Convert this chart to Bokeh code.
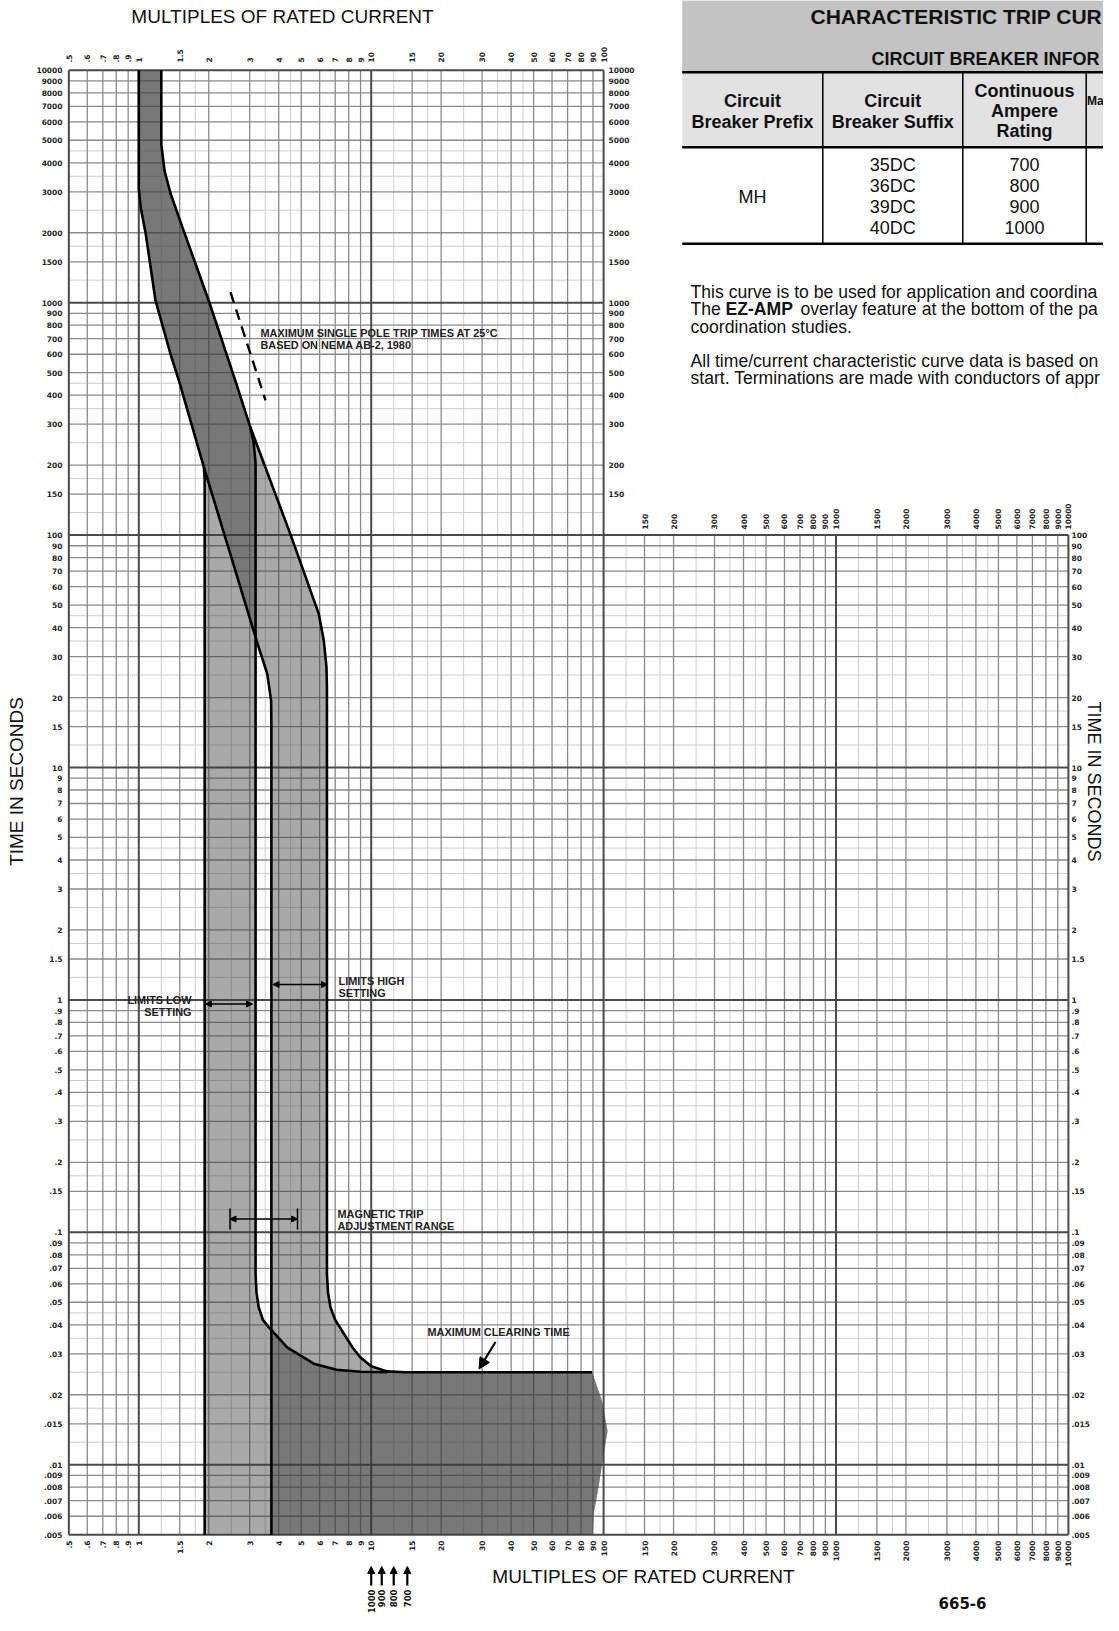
import math
from bokeh.plotting import figure
from bokeh.models import Range1d, LinearScale, Arrow, NormalHead
from bokeh.core.properties import value
from bokeh.embed import file_html
from bokeh.resources import INLINE

# ---------------- tick labels ----------------
x_labels = [".5", ".6", ".7", ".8", ".9", "1", "1.5", "2", "3", "4", "5", "6", "7", "8", "9",
            "10", "15", "20", "30", "40", "50", "60", "70", "80", "90", "100",
            "150", "200", "300", "400", "500", "600", "700", "800", "900", "1000",
            "1500", "2000", "3000", "4000", "5000", "6000", "7000", "8000", "9000", "10000"]
y_labels = ["10000", "9000", "8000", "7000", "6000", "5000", "4000", "3000", "2000", "1500",
            "1000", "900", "800", "700", "600", "500", "400", "300", "200", "150",
            "100", "90", "80", "70", "60", "50", "40", "30", "20", "15",
            "10", "9", "8", "7", "6", "5", "4", "3", "2", "1.5",
            "1", ".9", ".8", ".7", ".6", ".5", ".4", ".3", ".2", ".15",
            ".1", ".09", ".08", ".07", ".06", ".05", ".04", ".03", ".02", ".015",
            ".01", ".009", ".008", ".007", ".006", ".005"]
minor_steps = [1.25, 1.75, 2.5, 3.5, 4.5]

# ---------------- curves (multiples of rating, seconds) ----------------
tmin_x = [1.0, 1.0, 1.02, 1.07, 1.11, 1.18, 1.37, 1.5, 1.905, 2.4, 3.21, 3.57, 3.71, 3.72]
tmin_y = [10000, 3100, 2550, 1990, 1550, 1020, 600, 450, 196, 92, 35.2, 25.3, 19.4, 15]
tmax_x = [1.25, 1.25, 1.29, 1.37, 1.54, 2.0, 2.6, 3.02, 4.49, 5.95, 6.25, 6.42, 6.45]
tmax_y = [10000, 4800, 3700, 2950, 2115, 1020, 463, 291, 101, 45.8, 35.2, 27, 22]
clear_hi_x = [6.45, 6.52, 6.68, 7.0, 7.63, 8.3, 8.97, 10.0, 11.7, 14.0, 89.3]
clear_hi_y = [0.066, 0.055, 0.0476, 0.042, 0.0366, 0.032, 0.029, 0.0265, 0.0252, 0.025, 0.025]
low_max_x = [3.02, 3.12, 3.18, 3.18, 3.21, 3.28, 3.42, 3.62, 4.35, 5.66, 7.1, 9.0, 11.7]
low_max_y = [291, 250, 205, 0.066, 0.055, 0.0476, 0.042, 0.0391, 0.032, 0.0272, 0.0256, 0.0251, 0.025]
low_min_x = [1.905, 1.92, 1.92]
low_min_y = [196, 175, 0.005]
high_min_end = [3.72, 0.005]
edge_x = [89.8, 90.7, 95.1, 99.1, 104.0, 98.4, 89.3]
edge_y = [0.005, 0.00615, 0.008, 0.0104, 0.014, 0.0189, 0.025]
nema_x = [2.48, 3.51]
nema_y = [1110, 380]

# EZ-AMP overlay
ez_ratings = ["1000", "900", "800", "700"]
ez_x = [10.0, 11.1, 12.5, 14.3]

# table
tbl_prefix = "MH"
tbl_suffix = ["35DC", "36DC", "39DC", "40DC"]
tbl_amps = ["700", "800", "900", "1000"]

# ---------------- figure geometry ----------------
W, H = 1103, 1615
PX1, PY1, K = 138.3, 999.4, 232.4   # picture px of x=1 / y=1 and px per decade


def xr(px):
    return 10 ** ((px - PX1) / K)


def yr(py):
    return 10 ** ((PY1 - py) / K)


p = figure(width=W, height=H, x_axis_type="log", y_axis_type="log",
           x_range=Range1d(xr(0), xr(W)), y_range=Range1d(yr(H), yr(0)),
           x_axis_location=None, y_axis_location=None, min_border=0,
           output_backend="svg", toolbar_location=None)
p.outline_line_color = None
p.grid.visible = False
p.background_fill_color = "white"
p.border_fill_color = "white"
p.extra_x_ranges = {"px": Range1d(0, W)}
p.extra_y_ranges = {"py": Range1d(H, 0)}
p.extra_x_scales = {"px": LinearScale()}
p.extra_y_scales = {"py": LinearScale()}

FONT = value("Liberation Sans")
TFONT = value("DejaVu Sans")

# ---------------- grid ----------------
x_ticks = [float(s) for s in x_labels]
y_ticks = [float(s) for s in y_labels]


def is_decade(v):
    l = math.log10(v)
    return abs(l - round(l)) < 1e-9


groups = {"minor": ([], [], [], []), "major": ([], [], [], []), "dark": ([], [], [], [])}


def add(group, x0, y0, x1, y1):
    g = groups[group]
    g[0].append(x0); g[1].append(y0); g[2].append(x1); g[3].append(y1)


XMIN, XMID, XMAX = x_ticks[0], 100.0, x_ticks[-1]
YMIN, YMID, YMAX = y_ticks[-1], 100.0, y_ticks[0]
for v in x_ticks:
    top = YMAX if v <= XMID else YMID
    add("dark" if (is_decade(v) or v in (XMIN, XMAX)) else "major", v, YMIN, v, top)
for d in [1, 10, 100, 1000]:
    for m in minor_steps:
        v = m * d
        add("minor", v, YMIN, v, YMAX if v <= XMID else YMID)
for v in y_ticks:
    right = XMAX if v <= YMID else XMID
    add("dark" if (is_decade(v) or v in (YMIN, YMAX)) else "major", XMIN, v, right, v)
for d in [0.01, 0.1, 1, 10, 100, 1000]:
    for m in minor_steps:
        v = m * d
        add("minor", XMIN, v, XMAX if v <= YMID else XMID, v)

styles = {"minor": ("#cdcdcd", 1.0), "major": ("#8a8a8a", 1.3), "dark": ("#4a4a4a", 2.0)}
for g in ["minor", "major", "dark"]:
    x0, y0, x1, y1 = groups[g]
    p.segment(x0=x0, y0=y0, x1=x1, y1=y1, line_color=styles[g][0], line_width=styles[g][1])

# ---------------- bands ----------------
j = tmin_x.index(1.905)
k = tmax_x.index(3.02)
low_px = tmin_x[:j + 1] + low_min_x[1:] + edge_x + low_max_x[::-1] + tmax_x[:k][::-1]
low_py = tmin_y[:j + 1] + low_min_y[1:] + edge_y + low_max_y[::-1] + tmax_y[:k][::-1]
high_px = tmin_x + [high_min_end[0]] + edge_x + clear_hi_x[::-1] + tmax_x[::-1]
high_py = tmin_y + [high_min_end[1]] + edge_y + clear_hi_y[::-1] + tmax_y[::-1]
p.patches(xs=[low_px, high_px], ys=[low_py, high_py], fill_color="#383838",
          fill_alpha=0.43, line_color=None)

# ---------------- curves ----------------
LW = 2.6
p.line(tmin_x + [high_min_end[0]], tmin_y + [high_min_end[1]], line_color="black", line_width=LW)
p.line(tmax_x + clear_hi_x, tmax_y + clear_hi_y, line_color="black", line_width=LW)
p.line(low_min_x, low_min_y, line_color="black", line_width=LW)
p.line(low_max_x, low_max_y, line_color="black", line_width=LW)
p.line(nema_x, nema_y, line_color="black", line_width=2.4, line_dash="11 7")


# ---------------- texts helper ----------------
def txt(x, y, s, size, bold=False, align="left", baseline="middle", angle=0.0,
        color="#111111", xn="px", yn="py", font=FONT):
    p.text(x=x if isinstance(x, list) else [x], y=y if isinstance(y, list) else [y],
           text=s if isinstance(s, list) else [s], text_font=font,
           text_font_size=f"{size}px", text_font_style="bold" if bold else "normal",
           text_align=align, text_baseline=baseline, angle=angle, text_color=color,
           x_range_name=xn, y_range_name=yn)


# tick labels
TS = 7.5
TC = "#262626"
left_x_labels = [s for s, v in zip(x_labels, x_ticks) if v <= XMID]
left_x_vals = [v for v in x_ticks if v <= XMID]
right_x_labels = [s for s, v in zip(x_labels, x_ticks) if v > XMID]
right_x_vals = [v for v in x_ticks if v > XMID]
txt(left_x_vals, [62] * len(left_x_vals), left_x_labels, TS, bold=True, align="left",
    angle=math.pi / 2, color=TC, xn="default", font=TFONT)
txt(right_x_vals, [529] * len(right_x_vals), right_x_labels, TS, bold=True, align="left",
    angle=math.pi / 2, color=TC, xn="default", font=TFONT)
txt(x_ticks, [1540] * len(x_ticks), x_labels, TS, bold=True, align="right",
    angle=math.pi / 2, color=TC, xn="default", font=TFONT)
txt([62] * len(y_ticks), y_ticks, y_labels, TS, bold=True, align="right", color=TC, yn="default",
    font=TFONT)
up_labels = [s for s, v in zip(y_labels, y_ticks) if v > YMID]
up_vals = [v for v in y_ticks if v > YMID]
lo_labels = [s for s, v in zip(y_labels, y_ticks) if v <= YMID]
lo_vals = [v for v in y_ticks if v <= YMID]
txt([608] * len(up_vals), up_vals, up_labels, TS, bold=True, color=TC, yn="default", font=TFONT)
txt([1071] * len(lo_vals), lo_vals, lo_labels, TS, bold=True, color=TC, yn="default", font=TFONT)

# axis titles
txt(282, 16, "MULTIPLES OF RATED CURRENT", 19, align="center")
txt(643, 1576, "MULTIPLES OF RATED CURRENT", 19, align="center")
txt(16, 781, "TIME IN SECONDS", 19, align="center", angle=math.pi / 2)
txt(1093, 781, "TIME IN SECONDS", 18, align="center", angle=-math.pi / 2)
txt(962, 1602, "665-6", 15, bold=True, align="center", font=TFONT)

# annotations
AS = 10.9
AC = "#222222"
txt(260, 332.5, "MAXIMUM SINGLE POLE TRIP TIMES AT 25°C", AS, bold=True, color=AC)
txt(260, 344, "BASED ON NEMA AB-2, 1980", AS, bold=True, color=AC)
txt(338, 980.5, "LIMITS HIGH", AS, bold=True, color=AC)
txt(338, 992, "SETTING", AS, bold=True, color=AC)
txt(191, 999.5, "LIMITS LOW", AS, bold=True, align="right", color=AC)
txt(191, 1011, "SETTING", AS, bold=True, align="right", color=AC)
txt(337, 1213, "MAGNETIC TRIP", AS, bold=True, color=AC)
txt(337, 1225, "ADJUSTMENT RANGE", AS, bold=True, color=AC)
txt(427, 1331.5, "MAXIMUM CLEARING TIME", AS, bold=True, color=AC)


def darrow(x0, x1, y):
    p.add_layout(Arrow(x_start=x0, y_start=y, x_end=x1, y_end=y, x_range_name="px", y_range_name="py",
                       line_width=1.3, line_color="black",
                       start=NormalHead(size=6, fill_color="black", line_color="black"),
                       end=NormalHead(size=6, fill_color="black", line_color="black")))


darrow(272.5, 327, 984)
darrow(205, 252, 1003.5)
darrow(229.5, 297, 1218.5)
p.segment(x0=[229.5, 297], y0=[1208, 1208], x1=[229.5, 297], y1=[1229, 1229],
          line_color="black", line_width=1.5, x_range_name="px", y_range_name="py")
p.add_layout(Arrow(x_start=495, y_start=1341.5, x_end=478.5, y_end=1368.5, x_range_name="px",
                   y_range_name="py", line_width=2.2, line_color="black",
                   end=NormalHead(size=11, fill_color="black", line_color="black")))

# EZ-AMP arrows
for xv in ez_x:
    p.add_layout(Arrow(x_start=xv, y_start=1585, x_end=xv, y_end=1566, y_range_name="py",
                       line_width=2.2, line_color="black",
                       end=NormalHead(size=7, fill_color="black", line_color="black")))
txt(ez_x, [1589] * len(ez_x), ez_ratings, 8.5, bold=True, align="right", angle=math.pi / 2,
    xn="default", font=TFONT)

# ---------------- table ----------------
TL, TR = 681.7, W
p.quad(left=[TL], right=[TR], top=[0], bottom=[71.7], fill_color="#c3c3c3", line_color=None,
       x_range_name="px", y_range_name="py")
p.quad(left=[TL], right=[TR], top=[71.7], bottom=[146.7], fill_color="#e2e2e2", line_color=None,
       x_range_name="px", y_range_name="py")
p.segment(x0=[TL, TL, TL], y0=[71.7, 146.7, 243.3], x1=[TR, TR, TR], y1=[71.7, 146.7, 243.3],
          line_color="black", line_width=2.6, x_range_name="px", y_range_name="py")
p.segment(x0=[822.3, 962.3, 1085.7], y0=[71.7] * 3, x1=[822.3, 962.3, 1085.7], y1=[243.3] * 3,
          line_color="black", line_width=1.5, x_range_name="px", y_range_name="py")
txt(810, 15.5, "CHARACTERISTIC TRIP CUR", 21, bold=True)
txt(871, 58, "CIRCUIT BREAKER INFOR", 18, bold=True)
HS = 18
txt(752, 100, "Circuit", HS, bold=True, align="center")
txt(752, 121.5, "Breaker Prefix", HS, bold=True, align="center")
txt(892.3, 100, "Circuit", HS, bold=True, align="center")
txt(892.3, 121.5, "Breaker Suffix", HS, bold=True, align="center")
txt(1024, 90, "Continuous", HS, bold=True, align="center")
txt(1024, 110, "Ampere", HS, bold=True, align="center")
txt(1024, 130, "Rating", HS, bold=True, align="center")
txt(1086.5, 100, "Ma", 12, bold=True)
row_y = [164, 185, 206, 227]
txt(752, 196, tbl_prefix, HS, align="center")
txt([892.3] * 4, row_y, tbl_suffix, HS, align="center")
txt([1024] * 4, row_y, tbl_amps, HS, align="center")

# paragraph (as much as the page shows)
PS = 17.6
txt(690, 291.5, "This curve is to be used for application and coordina", PS)
txt(690, 308.5, "The", PS)
txt(725, 308.5, "EZ-AMP", PS, bold=True)
txt(800, 308.5, "overlay feature at the bottom of the pa", PS)
txt(690, 326, "coordination studies.", PS)
txt(690, 360, "All time/current characteristic curve data is based on", PS)
txt(690, 377.5, "start. Terminations are made with conductors of appr", PS)

open("out.html", "w").write(file_html(p, INLINE))
